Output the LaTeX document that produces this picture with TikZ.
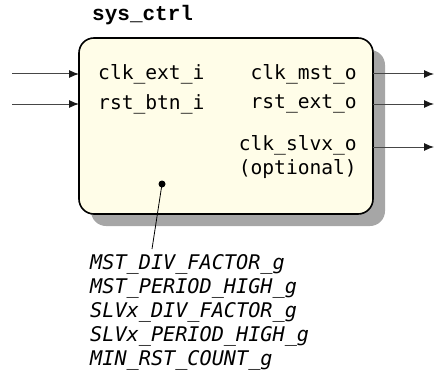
\documentclass[tikz,border=0pt]{standalone}
\usepackage{fontspec}
\setmonofont{DejaVu Sans Mono}
\newfontfamily\titlefont{Liberation Mono}
\usetikzlibrary{arrows.meta}
\definecolor{boxfill}{RGB}{255,253,232}
\definecolor{shadowgray}{RGB}{166,166,166}
\definecolor{wiregray}{RGB}{70,70,70}
\tikzset{
	port/.style={font=\ttfamily\fontsize{19.6}{22}\selectfont, inner sep=0pt},
	wire/.style={line width=1pt, color=wiregray, -{Latex[length=10pt,width=8pt,color=black!90]}},
}

\begin{document}
\begin{tikzpicture}[x=1pt, y=-1pt]
	%%%%% START %%%%%
	\useasboundingbox (0, 0) rectangle (435, 377);
	
	\node[anchor=west, inner sep=0pt, font=\titlefont\bfseries\fontsize{21}{23}\selectfont] (title) at (92, 15) {sys\_ctrl};
	
	\fill[shadowgray, rounded corners=15] (91, 50) rectangle (385, 226);
	\draw[line width=1.6pt, fill=boxfill, rounded corners=15] (79, 38) rectangle (373, 214);
	
	\node[port, anchor=west] (clkext) at (98, 74) {clk\_ext\_i};
	\node[port, anchor=west] (rstbtn) at (98, 104) {rst\_btn\_i};
	\node[port, anchor=east] (clkmst) at (357, 74) {clk\_mst\_o};
	\node[port, anchor=east] (rstext) at (357, 104) {rst\_ext\_o};
	\node[port, anchor=east] (clkslv) at (357, 145) {clk\_slvx\_o};
	\node[port, anchor=east] (opt) at (357, 169) {(optional)};
	
	\coordinate (inA) at (12, 74);
	\coordinate (inB) at (12, 104);
	\coordinate (boxA) at (79, 74);
	\coordinate (boxB) at (79, 104);
	\draw[wire] (inA) -- (boxA);
	\draw[wire] (inB) -- (boxB);
	
	\coordinate (outA) at (373, 74);
	\coordinate (outB) at (373, 104);
	\coordinate (outC) at (373, 147);
	\coordinate (endA) at (434, 74);
	\coordinate (endB) at (434, 104);
	\coordinate (endC) at (434, 147);
	\draw[wire] (outA) -- (endA);
	\draw[wire] (outB) -- (endB);
	\draw[wire] (outC) -- (endC);
	
	\fill[black] (162, 184) circle (3.5);
	\coordinate (dot) at (162, 184);
	\coordinate (gtop) at (152, 249);
	\draw[line width=0.8pt] (dot) -- (gtop);
	
	\node[anchor=north west, inner sep=0pt, align=left, font=\ttfamily\itshape\fontsize{20.2}{24.2}\selectfont] (generics) at (90, 254)
	{MST\_DIV\_FACTOR\_g\\MST\_PERIOD\_HIGH\_g\\SLVx\_DIV\_FACTOR\_g\\SLVx\_PERIOD\_HIGH\_g\\MIN\_RST\_COUNT\_g};
	
	%%%%% END %%%%%
\end{tikzpicture}
\end{document}
